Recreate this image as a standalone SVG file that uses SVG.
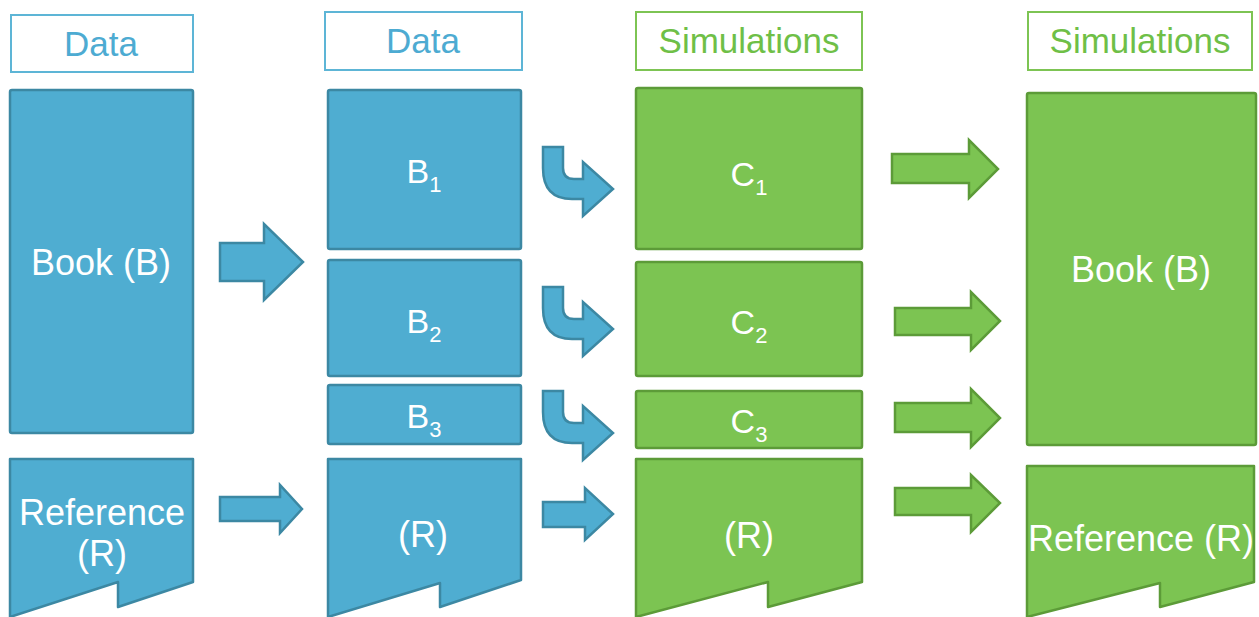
<svg xmlns="http://www.w3.org/2000/svg" width="1259" height="617" viewBox="0 0 1259 617">
<style>
.bg{fill:#ffffff}
.hb{fill:#ffffff;stroke:#5DB5D6;stroke-width:2}
.hg{fill:#ffffff;stroke:#7DC453;stroke-width:2}
.tb{fill:#4DABD2;font-family:"Liberation Sans",Arial,sans-serif;font-size:35px;text-anchor:middle}
.tg{fill:#6FBF47;font-family:"Liberation Sans",Arial,sans-serif;font-size:35px;text-anchor:middle}
.nb{fill:#4FADD1;stroke:#3C88A3;stroke-width:2.5;stroke-linejoin:round}
.ng{fill:#7CC452;stroke:#5C9B38;stroke-width:2.5;stroke-linejoin:round}
.t{fill:#ffffff;font-family:"Liberation Sans",Arial,sans-serif;font-size:36px;text-anchor:middle}
.s{fill:#ffffff;font-family:"Liberation Sans",Arial,sans-serif;font-size:34px;text-anchor:middle}
.ab{fill:#4FADD1;stroke:#3C88A3;stroke-width:2.5;stroke-linejoin:miter}
.ag{fill:#7CC452;stroke:#5C9B38;stroke-width:2.5;stroke-linejoin:miter}
</style>
<defs>
<path id="bent" d="M543,147 H563 V168 Q563,179 574,179 H583 V162 L613,189 L583,216 V199 H572 Q543,199 543,168 Z"/>
</defs>
<rect class="bg" x="0" y="0" width="1259" height="617"/>

<g id="header-data-1"><rect class="hb" x="11" y="15" width="182" height="57"/><text class="tb" x="101" y="56">Data</text></g>
<g id="header-data-2"><rect class="hb" x="325" y="12" width="197" height="58"/><text class="tb" x="423" y="53">Data</text></g>
<g id="header-sim-3"><rect class="hg" x="636" y="12" width="226" height="58"/><text class="tg" x="749" y="53">Simulations</text></g>
<g id="header-sim-4"><rect class="hg" x="1028" y="12" width="224" height="58"/><text class="tg" x="1140" y="53">Simulations</text></g>

<g id="book-1"><rect class="nb" x="10" y="90" width="183" height="343" rx="2"/><text class="t" x="101" y="275">Book (B)</text></g>
<g id="reference-1"><path class="nb" d="M10,459 H193 V582 L118,607 V582 L10,617 Z"/><text class="t" x="102" y="525">Reference</text><text class="t" x="102" y="566">(R)</text></g>

<g id="b1"><rect class="nb" x="328" y="90" width="193" height="159" rx="2"/><text class="s" x="424" y="183">B<tspan font-size="22" dy="9">1</tspan></text></g>
<g id="b2"><rect class="nb" x="328" y="260" width="193" height="116" rx="2"/><text class="s" x="424" y="333">B<tspan font-size="22" dy="9">2</tspan></text></g>
<g id="b3"><rect class="nb" x="328" y="385" width="193" height="59" rx="2"/><text class="s" x="424" y="428">B<tspan font-size="22" dy="9">3</tspan></text></g>
<g id="reference-2"><path class="nb" d="M328,459 H521 V580 L440,607 V583 L328,617 Z"/><text class="t" x="423" y="547">(R)</text></g>

<g id="c1"><rect class="ng" x="636" y="88" width="226" height="161" rx="2"/><text class="s" x="749" y="186">C<tspan font-size="22" dy="9">1</tspan></text></g>
<g id="c2"><rect class="ng" x="636" y="262" width="226" height="114" rx="2"/><text class="s" x="749" y="334">C<tspan font-size="22" dy="9">2</tspan></text></g>
<g id="c3"><rect class="ng" x="636" y="391" width="226" height="57" rx="2"/><text class="s" x="749" y="433">C<tspan font-size="22" dy="9">3</tspan></text></g>
<g id="reference-3"><path class="ng" d="M636,459 H862 V582 L768,607 V582 L636,617 Z"/><text class="t" x="749" y="548">(R)</text></g>

<g id="book-4"><rect class="ng" x="1027" y="93" width="229" height="352" rx="2"/><text class="t" x="1141" y="282">Book (B)</text></g>
<g id="reference-4"><path class="ng" d="M1027,466 H1254 V582 L1160,607 V583 L1027,617 Z"/><text class="t" x="1141" y="551">Reference (R)</text></g>

<g id="connectors">
<path class="ab" d="M220,243 H264 V224 L303,262 L264,300 V281 H220 Z"/>
<path class="ab" d="M220,497 H280 V485 L302,509 L280,533 V521 H220 Z"/>
<use href="#bent" class="ab"/>
<use href="#bent" class="ab" transform="translate(0,140)"/>
<use href="#bent" class="ab" transform="translate(0,244)"/>
<path class="ab" d="M543,502 H585 V488 L613,514 L585,540 V527 H543 Z"/>
<path class="ag" d="M892,154 H969 V140 L998,169 L969,198 V183 H892 Z"/>
<path class="ag" d="M895,308 H971 V292 L1000,321 L971,350 V335 H895 Z"/>
<path class="ag" d="M895,403 H971 V389 L1000,418 L971,447 V432 H895 Z"/>
<path class="ag" d="M895,488 H971 V475 L1000,503 L971,532 V515 H895 Z"/>
</g>
</svg>
